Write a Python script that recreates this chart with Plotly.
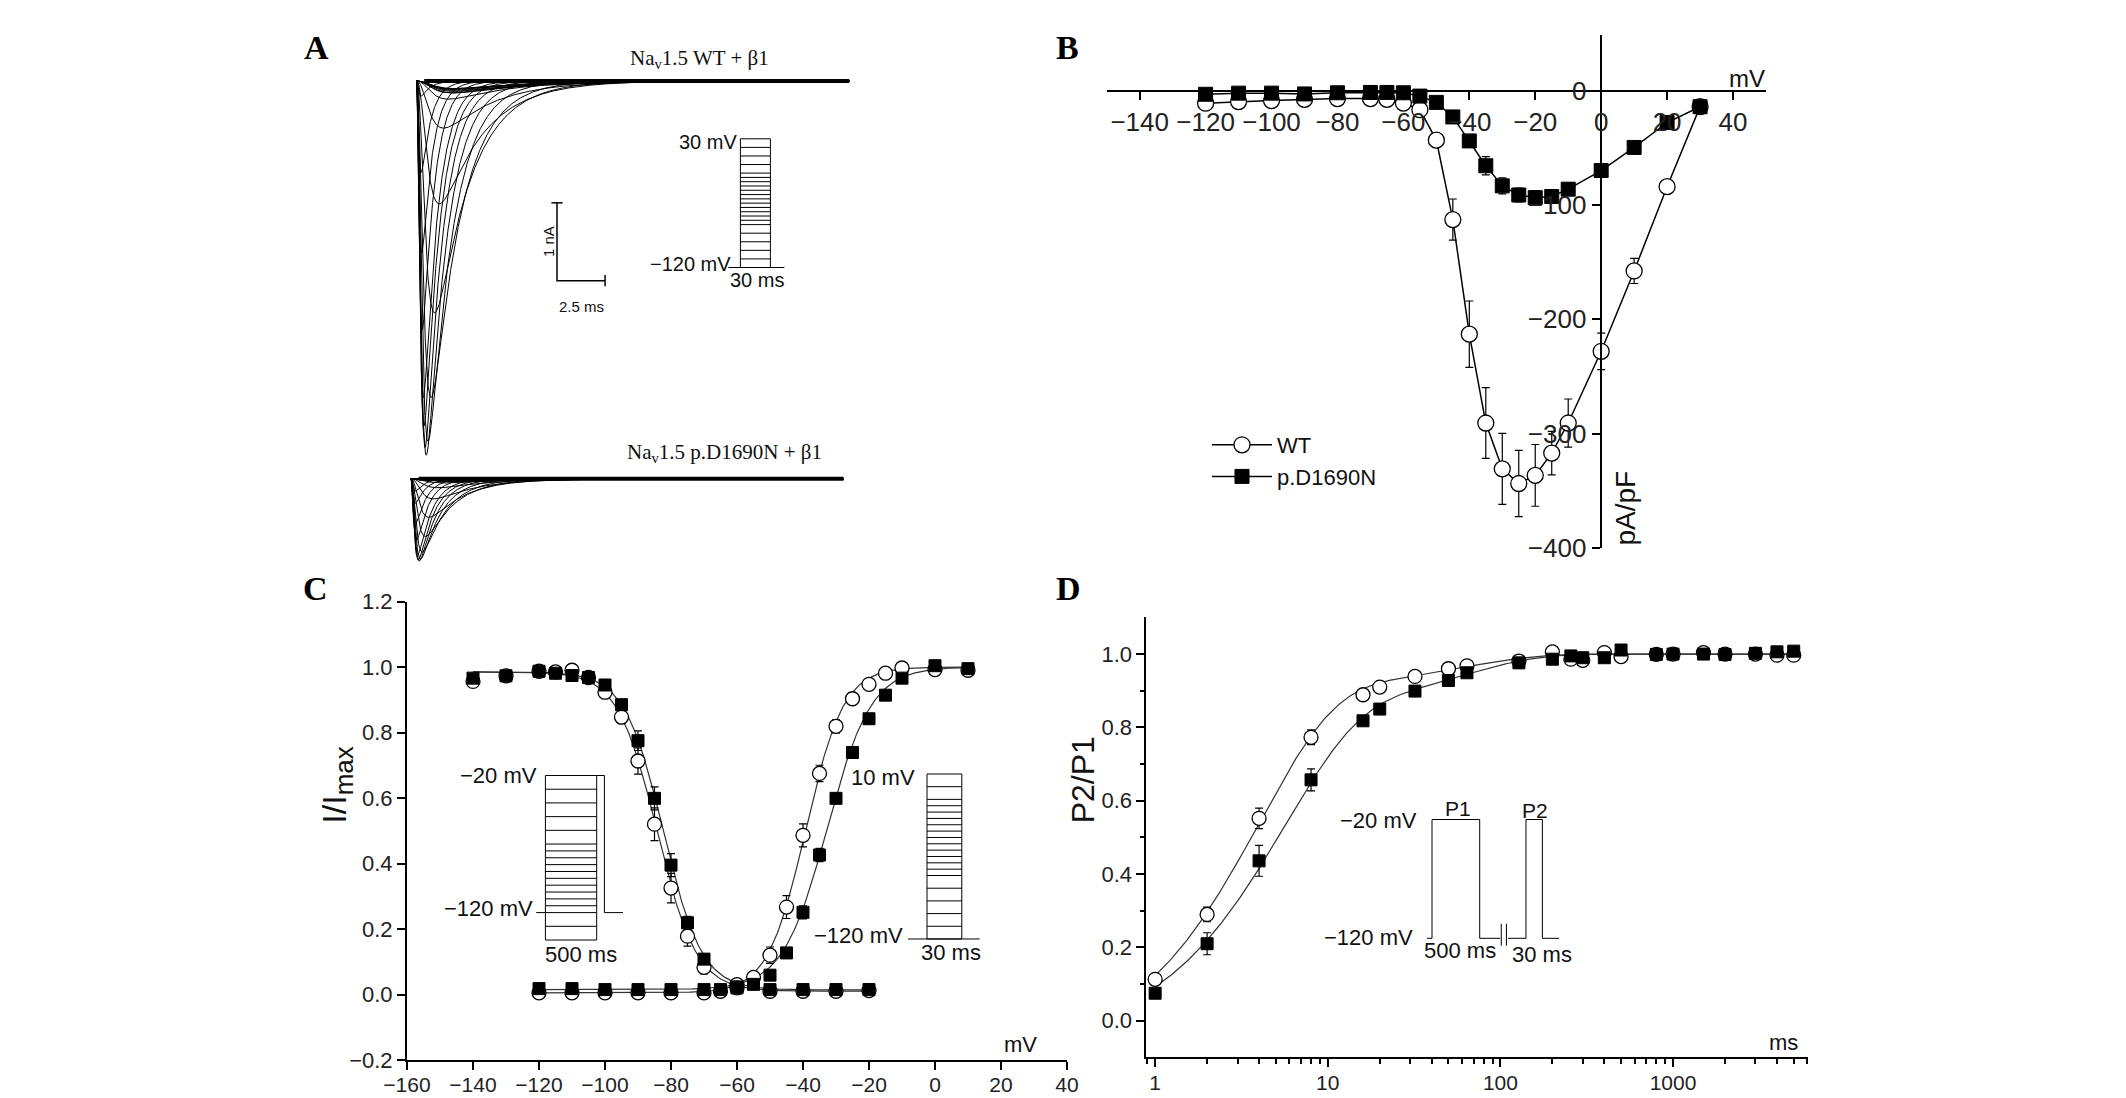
import numpy as np
import plotly.graph_objects as go

W, H = 2126, 1098          # window size
OFF = 8                    # page body margin
FW, FH = W - OFF, H - OFF
SANS = "Liberation Sans, Arial, sans-serif"
SERIF = "Liberation Serif, Times New Roman, serif"

# ---------------- data ----------------
# B: current density vs test potential
iv_mv = [-120, -110, -100, -90, -80, -70, -65, -60, -55, -50, -45, -40, -35, -30, -25, -20, -15, -10, 0, 10, 20, 30]
iv_wt = [-11, -9.6, -8.7, -7.7, -7, -7, -7.7, -10.9, -16.7, -43.3, -112.8, -213, -290.7, -330.8, -343.6, -336.5,
         -317, -290.7, -228, -157.7, -84, -14]
iv_wt_err = [5, 5, 4, 3, 3, 3, 3, 4, 5, 5, 18, 29, 31, 31, 29, 27, 19, 21, 16, 11, 5, 3]
iv_mut = [-3.2, -2.2, -2.2, -2.9, -1.9, -1.6, -1.6, -1.9, -4.8, -10.3, -23, -44, -65.7, -83.3, -91.3, -93.6,
          -92.6, -86.2, -69.9, -49.7, -27.9, -14.1]
iv_mut_err = [2, 2, 2, 2, 2, 2, 2, 2, 2, 3, 3, 5, 8, 7, 6, 6, 6, 5, 4, 3, 3, 3]

# A: sweep kinetics per test potential (ms) and cell capacitance (pF)
tau_m = [0.7, 0.7, 0.7, 0.7, 0.7, 0.7, 0.7, 0.65, 0.6, 0.5, 0.42, 0.33, 0.26, 0.2, 0.17, 0.15, 0.13, 0.12,
         0.1, 0.09, 0.08, 0.08]
tau_h = [3.5, 3.5, 3.5, 3.5, 3.5, 3.5, 3.4, 3.2, 3.0, 2.6, 2.2, 1.8, 1.5, 1.25, 1.05, 0.9, 0.8, 0.72, 0.62,
         0.55, 0.5, 0.45]
cm_wt = 14.0
cm_mut = 11.3

# C: steady-state inactivation and activation
inact_mv = [-140, -130, -120, -115, -110, -105, -100, -95, -90, -85, -80, -75, -70, -60, -50, -40, -30, -20]
inact_wt = [0.956, 0.973, 0.987, 0.985, 0.99, 0.968, 0.923, 0.847, 0.713, 0.52, 0.325, 0.178, 0.083, 0.03,
            0.01, 0.01, 0.01, 0.012]
inact_wt_err = [0.01, 0.01, 0.008, 0.008, 0.01, 0.012, 0.015, 0.02, 0.04, 0.05, 0.045, 0.03, 0.02, 0.008,
                0.005, 0.005, 0.005, 0.005]
inact_mut = [0.966, 0.973, 0.987, 0.981, 0.974, 0.968, 0.945, 0.885, 0.775, 0.599, 0.395, 0.219, 0.108, 0.023,
             0.015, 0.015, 0.015, 0.015]
inact_mut_err = [0.01, 0.01, 0.008, 0.008, 0.008, 0.01, 0.012, 0.015, 0.03, 0.035, 0.035, 0.02, 0.012, 0.006,
                 0.005, 0.005, 0.005, 0.005]
act_mv = [-120, -110, -100, -90, -80, -70, -65, -60, -55, -50, -45, -40, -35, -30, -25, -20, -15, -10, 0, 10]
act_wt = [0.005, 0.005, 0.005, 0.005, 0.005, 0.005, 0.01, 0.02, 0.052, 0.12, 0.267, 0.486, 0.675, 0.819, 0.903,
          0.947, 0.981, 0.997, 0.992, 0.99]
act_wt_err = [0.005, 0.005, 0.005, 0.005, 0.005, 0.005, 0.005, 0.006, 0.012, 0.025, 0.035, 0.035, 0.025, 0.02,
              0.015, 0.015, 0.012, 0.01, 0.008, 0.008]
act_mut = [0.018, 0.018, 0.015, 0.015, 0.015, 0.015, 0.015, 0.02, 0.031, 0.059, 0.127, 0.251, 0.426, 0.599,
           0.739, 0.842, 0.914, 0.966, 1.004, 0.995]
act_mut_err = [0.005, 0.005, 0.005, 0.005, 0.005, 0.005, 0.005, 0.006, 0.008, 0.01, 0.012, 0.02, 0.02, 0.015,
               0.012, 0.01, 0.01, 0.008, 0.008, 0.008]
# Boltzmann fits: (V1/2, k, top, floor)
inact_fit_wt = (-84.2, 5.98, 0.985, 0.01)
inact_fit_mut = (-82.35, 5.86, 0.985, 0.014)
act_fit_wt = (-39.2, 5.74, 1.0, 0.005)
act_fit_mut = (-32.7, 6.69, 1.0, 0.015)

# D: recovery from inactivation
rec_ms = [1, 2, 4, 8, 16, 20, 32, 50, 64, 128, 200, 256, 300, 400, 500, 800, 1000, 1500, 2000, 3000, 4000, 5000]
rec_wt = [0.113, 0.29, 0.552, 0.773, 0.889, 0.91, 0.939, 0.96, 0.968, 0.981, 1.006, 0.986, 0.983, 1.004, 0.993,
          0.999, 1.0, 1.004, 1.0, 1.0, 0.997, 0.997]
rec_wt_err = [0.01, 0.02, 0.028, 0.02, 0.012, 0.01, 0.01, 0.01, 0.008, 0.006, 0.006, 0.006, 0.006, 0.006,
              0.006, 0.005, 0.005, 0.005, 0.005, 0.005, 0.005, 0.005]
rec_mut = [0.075, 0.21, 0.436, 0.657, 0.818, 0.85, 0.899, 0.928, 0.949, 0.976, 0.986, 0.995, 0.99, 0.99, 1.011,
           0.999, 1.0, 1.0, 0.999, 1.002, 1.006, 1.008]
rec_mut_err = [0.01, 0.03, 0.042, 0.03, 0.012, 0.012, 0.01, 0.01, 0.01, 0.006, 0.006, 0.006, 0.006, 0.006,
               0.006, 0.005, 0.005, 0.005, 0.005, 0.005, 0.005, 0.005]
# two-exponential fits: (A_fast, tau_fast, A_slow, tau_slow)
rec_fit_wt = (1.0, 4.0, 0.1, 60.0)
rec_fit_mut = (0.9, 5.5, 0.16, 60.0)

# protocol levels (mV)
iv_steps = iv_mv
inact_steps = [-20, -30, -40, -50, -60, -70, -75, -80, -85, -90, -95, -100, -105, -110, -115, -120, -130, -140]
act_steps = act_mv


# window pixel -> figure paper fraction
def fx(px):
    return (px - OFF) / FW


def fy(py):
    return 1 - (py - OFF) / FH


def xdom(a, b):
    return [fx(a), fx(b)]


def ydom(top, bottom):
    return [fy(bottom), fy(top)]


def xlin(a, b, px_ref, val_ref, ppu):
    return dict(domain=xdom(a, b), range=[val_ref + (a - px_ref) / ppu, val_ref + (b - px_ref) / ppu])


def ylin(top, bottom, py_ref, val_ref, ppu):
    return dict(domain=ydom(top, bottom), range=[val_ref - (bottom - py_ref) / ppu, val_ref - (top - py_ref) / ppu])


def segs(pairs):
    xs, ys = [], []
    for (x0, y0), (x1, y1) in pairs:
        xs += [x0, x1, None]
        ys += [y0, y1, None]
    return xs, ys


fig = go.Figure()

# ---------------- A: current sweeps ----------------
t = np.linspace(0, 22.5, 1800)
mut_shift_ms = -0.296
mut_offset_na = -5.112
for cm, iv, shift, off, in [(cm_wt, iv_wt, 0.0, 0.0), (cm_mut, iv_mut, mut_shift_ms, mut_offset_na)]:
    xs, ys = [], []
    for amp, tm, th in zip(iv, tau_m, tau_h):
        shape = (1 - np.exp(-t / tm)) ** 3 * np.exp(-t / th)
        cur = amp * cm / 1000 * shape / shape.max()
        xs += list(t + shift) + [None]
        ys += list(cur + off) + [None]
    fig.add_trace(go.Scatter(x=xs, y=ys, mode="lines", line=dict(color="black", width=1),
                             xaxis="x", yaxis="y", showlegend=False, hoverinfo="skip"))
    # recording noise band on the baseline
    fig.add_trace(go.Scatter(x=[0.4 + shift, 22.5 + shift], y=[off, off], mode="lines",
                             line=dict(color="black", width=4), xaxis="x", yaxis="y",
                             showlegend=False, hoverinfo="skip"))

# scale bar 1 nA / 2.5 ms
sb_t, sb_i = 7.306, -1.566
fig.add_trace(go.Scatter(x=[sb_t, sb_t, sb_t + 2.5], y=[sb_i, sb_i - 1.0, sb_i - 1.0], mode="lines",
                         line=dict(color="black", width=1.5), xaxis="x", yaxis="y", showlegend=False))
fig.add_trace(go.Scatter(x=[sb_t, sb_t + 2.5], y=[sb_i, sb_i - 1.0], mode="markers",
                         marker=dict(symbol=["line-ew-open", "line-ns-open"], size=8, color="black",
                                     line=dict(color="black", width=1.5)),
                         xaxis="x", yaxis="y", showlegend=False))

# A inset protocol (-120 .. 30 mV, 30 ms)
pairs = [((0, v), (30, v)) for v in iv_steps]
pairs += [((0, -120), (0, 30)), ((30, -120), (30, 30)), ((-12, -120), (44, -120))]
px_, py_ = segs(pairs)
fig.add_trace(go.Scatter(x=px_, y=py_, mode="lines", line=dict(color="black", width=1),
                         xaxis="x5", yaxis="y5", showlegend=False))

# C inset protocols
pairs = [((0, v), (500, v)) for v in inact_steps]
pairs += [((0, -140), (0, -20)), ((500, -140), (500, -20)), ((-90, -120), (0, -120)),
          ((500, -20), (575, -20)), ((575, -20), (575, -120)), ((575, -120), (756, -120))]
px_, py_ = segs(pairs)
fig.add_trace(go.Scatter(x=px_, y=py_, mode="lines", line=dict(color="black", width=1),
                         xaxis="x6", yaxis="y6", showlegend=False))
pairs = [((0, v), (30, v)) for v in act_steps]
pairs += [((0, -120), (0, 10)), ((30, -120), (30, 10)), ((-16.4, -120), (45.4, -120))]
px_, py_ = segs(pairs)
fig.add_trace(go.Scatter(x=px_, y=py_, mode="lines", line=dict(color="black", width=1),
                         xaxis="x7", yaxis="y7", showlegend=False))

# D inset protocol
fig.add_trace(go.Scatter(x=[-52, 0, 0, 500, 500, 715, None, 797, 985, 985, 1157, 1157, 1332],
                         y=[-120, -120, -20, -20, -120, -120, None, -120, -120, -20, -20, -120, -120],
                         mode="lines", line=dict(color="black", width=1), xaxis="x8", yaxis="y8",
                         showlegend=False))
px_, py_ = segs([((726, -107.7), (726, -126.2)), ((780, -107.7), (780, -126.2))])
fig.add_trace(go.Scatter(x=px_, y=py_, mode="lines", line=dict(color="black", width=1),
                         xaxis="x8", yaxis="y8", showlegend=False))


# ---------------- shared marker styles ----------------
def open_circle(size):
    return dict(symbol="circle", size=size, color="white", line=dict(color="black", width=1.3))


def filled_square(size):
    return dict(symbol="square", size=size, color="black", line=dict(color="black", width=1))


def err(arr):
    return dict(type="data", array=arr, color="black", thickness=1.2, width=4)


# ---------------- B: I-V ----------------
fig.add_trace(go.Scatter(x=iv_mv, y=iv_wt, error_y=err(iv_wt_err), mode="lines+markers", name="WT",
                         line=dict(color="black", width=1.5), marker=open_circle(16), xaxis="x2", yaxis="y2"))
fig.add_trace(go.Scatter(x=iv_mv, y=iv_mut, error_y=err(iv_mut_err), mode="lines+markers", name="p.D1690N",
                         line=dict(color="black", width=1.5), marker=filled_square(14), xaxis="x2", yaxis="y2"))


# ---------------- C: activation / inactivation ----------------
def boltz(v, p, rising):
    vh, k, top, floor = p
    s = (vh - v) / k if rising else (v - vh) / k
    return floor + (top - floor) / (1 + np.exp(s))


v_in = np.linspace(-140, -20, 300)
v_ac = np.linspace(-120, 10, 300)
for p in (inact_fit_wt, inact_fit_mut):
    fig.add_trace(go.Scatter(x=v_in, y=boltz(v_in, p, False), mode="lines", line=dict(color="#333", width=1.2),
                             xaxis="x3", yaxis="y3", showlegend=False, hoverinfo="skip"))
for p in (act_fit_wt, act_fit_mut):
    fig.add_trace(go.Scatter(x=v_ac, y=boltz(v_ac, p, True), mode="lines", line=dict(color="#333", width=1.2),
                             xaxis="x3", yaxis="y3", showlegend=False, hoverinfo="skip"))
for xv, yv, ev in [(inact_mv, inact_wt, inact_wt_err), (act_mv, act_wt, act_wt_err)]:
    fig.add_trace(go.Scatter(x=xv, y=yv, error_y=err(ev), mode="markers", marker=open_circle(14),
                             xaxis="x3", yaxis="y3", showlegend=False))
for xv, yv, ev in [(inact_mv, inact_mut, inact_mut_err), (act_mv, act_mut, act_mut_err)]:
    fig.add_trace(go.Scatter(x=xv, y=yv, error_y=err(ev), mode="markers", marker=filled_square(12),
                             xaxis="x3", yaxis="y3", showlegend=False))

# ---------------- D: recovery ----------------
t_fit = np.logspace(0, np.log10(5000), 400)
for af, tf, a_s, ts in (rec_fit_wt, rec_fit_mut):
    fig.add_trace(go.Scatter(x=t_fit, y=1 - af * np.exp(-t_fit / tf) - a_s * np.exp(-t_fit / ts), mode="lines",
                             line=dict(color="#333", width=1.2), xaxis="x4", yaxis="y4", showlegend=False,
                             hoverinfo="skip"))
fig.add_trace(go.Scatter(x=rec_ms, y=rec_wt, error_y=err(rec_wt_err), mode="markers", marker=open_circle(14),
                         xaxis="x4", yaxis="y4", showlegend=False))
fig.add_trace(go.Scatter(x=rec_ms, y=rec_mut, error_y=err(rec_mut_err), mode="markers", marker=filled_square(12),
                         xaxis="x4", yaxis="y4", showlegend=False))

# ---------------- axes ----------------
hidden = dict(visible=False, fixedrange=True, automargin=False)


def axis_style(size):
    return dict(showline=True, linecolor="black", linewidth=2, ticks="outside", ticklen=8, tickwidth=2,
                tickcolor="black", showgrid=False, zeroline=False, automargin=False,
                tickfont=dict(family=SANS, size=size, color="#222"))


def minus(v):
    return f"\u2212{abs(v)}" if v < 0 else str(v)


lay = dict(
    width=FW, height=FH, autosize=False, margin=dict(l=0, r=0, t=0, b=0, pad=0, autoexpand=False),
    paper_bgcolor="white", plot_bgcolor="rgba(0,0,0,0)",
    xaxis=dict(**hidden, **xlin(380, 880, 416.5, 0.0, 19.23)),
    yaxis=dict(**hidden, **ylin(20, 610, 81, 0.0, 77.8)),
    xaxis5=dict(**hidden, **xlin(700, 800, 740.4, 0.0, 1.0), anchor="y5"),
    yaxis5=dict(**hidden, **ylin(120, 300, 138.8, 30.0, 0.858), anchor="x5"),
    xaxis6=dict(**hidden, **xlin(525, 640, 545.4, 0.0, 0.1026), anchor="y6"),
    yaxis6=dict(**hidden, **ylin(760, 960, 775.5, -20.0, 1.371), anchor="x6"),
    xaxis7=dict(**hidden, **xlin(890, 1000, 927, 0.0, 1.16), anchor="y7"),
    yaxis7=dict(**hidden, **ylin(760, 970, 774, 10.0, 1.269), anchor="x7"),
    xaxis8=dict(**hidden, **xlin(1370, 1580, 1432, 0.0, 0.0954), anchor="y8"),
    yaxis8=dict(**hidden, **ylin(790, 970, 819.5, -20.0, 1.188), anchor="x8"),
    xaxis2=dict(**axis_style(26), domain=xdom(1106.7, 1766), range=[-150, 50], anchor="free",
                position=fy(90.6), tickvals=list(range(-140, 41, 20)),
                ticktext=[minus(v) for v in range(-140, 41, 20)]),
    yaxis2=dict(**axis_style(26), domain=ydom(34.7, 548), range=[-400, 48.9], anchor="free",
                position=fx(1600.6), tickvals=[0, -100, -200, -300, -400],
                ticktext=[minus(v) for v in [0, -100, -200, -300, -400]]),
    xaxis3=dict(**axis_style(21), domain=xdom(407, 1067), range=[-160, 40], anchor="y3",
                ticklabelstandoff=-3,
                tickvals=list(range(-160, 41, 20)), ticktext=[minus(v) for v in range(-160, 41, 20)]),
    yaxis3=dict(**axis_style(22), domain=ydom(601.5, 1060), range=[-0.2, 1.2], anchor="x3",
                tickvals=[-0.2, 0, 0.2, 0.4, 0.6, 0.8, 1.0, 1.2],
                ticktext=["\u22120.2", "0.0", "0.2", "0.4", "0.6", "0.8", "1.0", "1.2"]),
    xaxis4=dict(**axis_style(21), type="log", domain=xdom(1146.4, 1808), range=[np.log10(0.89), np.log10(6050)],
                anchor="y4", ticklabelstandoff=-3,
                tickvals=[1, 10, 100, 1000], ticktext=["1", "10", "100", "1000"],
                minor=dict(ticks="outside", ticklen=5, tickwidth=1.5, tickcolor="black",
                           tickvals=[m * 10 ** e for e in range(-1, 4) for m in range(2, 10)
                                     if 0.89 <= m * 10 ** e <= 6050] + [0.9])),
    yaxis4=dict(**axis_style(22), domain=ydom(617.4, 1057.4), range=[-0.1, 1.1], anchor="x4",
                tickvals=[0, 0.2, 0.4, 0.6, 0.8, 1.0], tickformat=".1f",
                minor=dict(ticks="outside", ticklen=4, tickwidth=1.5, tickcolor="black",
                           tickvals=[0.1, 0.3, 0.5, 0.7, 0.9])),
    legend=dict(x=fx(1207), y=fy(424), xanchor="left", yanchor="top", bgcolor="rgba(0,0,0,0)",
                font=dict(family=SANS, size=22, color="#111"), itemwidth=60, tracegroupgap=0),
)
fig.update_layout(**lay)


def txt(x, y, s, size, family=SANS, angle=0, xanchor="center", yanchor="middle", ref=("paper", "paper"),
        color="#111"):
    if ref == ("paper", "paper"):
        x, y = fx(x), fy(y)
    fig.add_annotation(x=x, y=y, xref=ref[0], yref=ref[1], text=s, showarrow=False, textangle=angle,
                       xanchor=xanchor, yanchor=yanchor, font=dict(family=family, size=size, color=color))


# panel letters
for letter, (lx, ly) in {"A": (316.5, 47.5), "B": (1067, 47.5), "C": (315.6, 588.6), "D": (1068, 588.6)}.items():
    txt(lx, ly, f"<b>{letter}</b>", 34, family=SERIF, color="black")

# A labels
txt(699, 58.5, "Na<sub>v</sub>1.5 WT + \u03b21", 21, family=SERIF)
txt(724, 453, "Na<sub>v</sub>1.5 p.D1690N + \u03b21", 21, family=SERIF)
txt(sb_t - 0.45, sb_i - 0.5, "1 nA", 15, angle=-90, ref=("x", "y"))
txt(sb_t + 1.25, sb_i - 1.2, "2.5 ms", 15, ref=("x", "y"), yanchor="top")
txt(-1, 26, "30 mV", 20, xanchor="right", ref=("x5", "y5"))
txt(-7, -116, "\u2212120 mV", 20, xanchor="right", ref=("x5", "y5"))
txt(16.6, -135, "30 ms", 20, ref=("x5", "y5"))

# B labels
txt(1747, 78.6, "mV", 24)
txt(1624.5, 508, "pA/pF", 28, angle=-90)

# C labels
txt(336.7, 785, "I/I<sub><span style='font-size:26px'>max</span></sub>", 34, angle=-90)
txt(1020.8, 1044, "mV", 22)
txt(-65, -20, "\u221220 mV", 22, xanchor="right", ref=("x6", "y6"))
txt(-101, -117, "\u2212120 mV", 22, xanchor="right", ref=("x6", "y6"))
txt(350, -150.2, "500 ms", 22, ref=("x6", "y6"))
txt(-8.9, 7.6, "10 mV", 22, xanchor="right", ref=("x7", "y7"))
txt(-18.6, -116.9, "\u2212120 mV", 22, xanchor="right", ref=("x7", "y7"))
txt(21.1, -130.7, "30 ms", 22, ref=("x7", "y7"))

# D labels
txt(1083.3, 780, "P2/P1", 32, angle=-90)
txt(1783.3, 1042, "ms", 22)
txt(-136, -20.8, "\u221220 mV", 22, xanchor="right", ref=("x8", "y8"))
txt(-178, -119.2, "\u2212120 mV", 22, xanchor="right", ref=("x8", "y8"))
txt(269, -10.8, "P1", 21, ref=("x8", "y8"))
txt(1075, -12.8, "P2", 21, ref=("x8", "y8"))
txt(293.5, -130.5, "500 ms", 22, ref=("x8", "y8"))
txt(1153, -134, "30 ms", 22, ref=("x8", "y8"))

fig.write_html("out.html")
